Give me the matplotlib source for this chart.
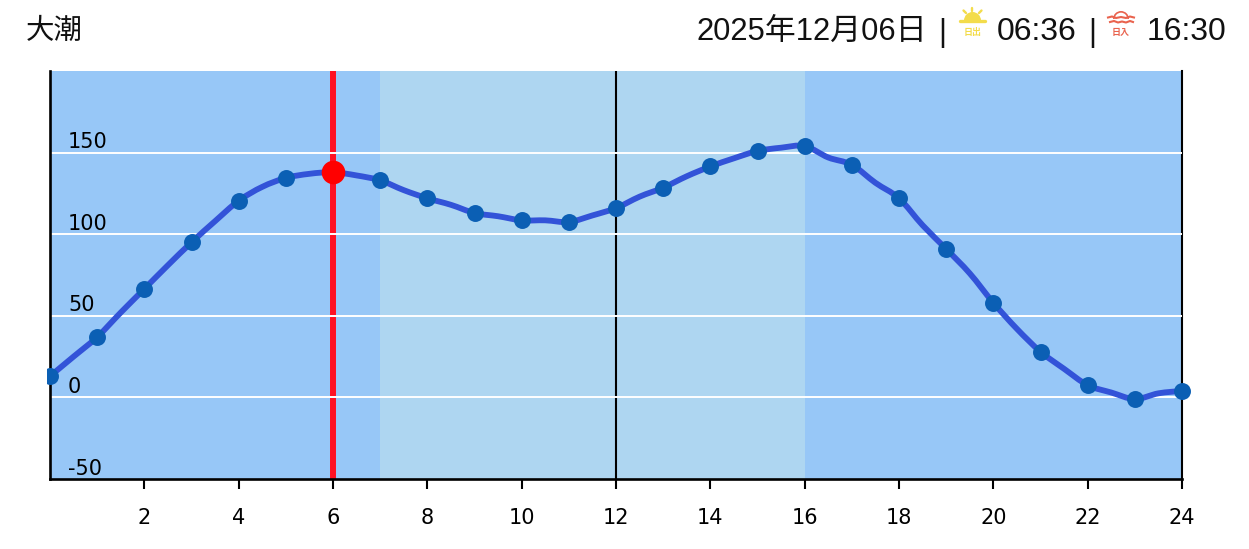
import matplotlib
matplotlib.use("Agg")
import matplotlib.pyplot as plt
from matplotlib.patches import Rectangle, Wedge, PathPatch
from matplotlib.path import Path

# marees : valeurs, toutes les demi-heures
hours = [0, 0.5, 1, 1.5, 2, 2.5, 3, 3.5, 4, 4.5, 5, 5.5, 6, 6.5, 7, 7.5, 8, 8.5,
         9, 9.5, 10, 10.5, 11, 11.5, 12, 12.5, 13, 13.5, 14, 14.5, 15, 15.5, 16,
         16.5, 17, 17.5, 18, 18.5, 19, 19.5, 20, 20.5, 21, 21.5, 22, 22.5, 23, 23.5, 24]
tide = [13, 25, 37, 52, 66.5, 81, 95, 108, 120.5, 129, 134.5, 137, 138, 136, 133, 127,
        122, 118, 113, 111, 108.5, 108.5, 107.5, 111.5, 116, 123, 128.5, 135.5, 141.5, 146.5,
        151, 153, 154, 147, 142.5, 131.5, 122, 105.5, 91, 76, 58, 42, 28, 17.5, 7.5, 3,
        -1, 2.5, 4]
marker_hours = list(range(25))
marker_tide = tide[::2]

now_hour = 6
now_tide = 138
day_start = 7
day_end = 16
y_ticks = [-50, 0, 50, 100, 150]
x_ticks = list(range(2, 25, 2))

title = "大潮"
date_text = "2025年12月06日"
sunrise = "06:36"
sunset = "16:30"

W, H = 1249, 549
BG = "#97c7f7"
BG_DAY = "#aed6f1"
JP = ["Liberation Sans", "Noto Sans CJK JP"]
CJK = ["Noto Sans CJK JP"]
INK = "#111111"


def smooth_path(xs, ys):
    # courbe de Bezier qui passe par chaque valeur
    verts = [(xs[0], ys[0])]
    codes = [Path.MOVETO]
    n = len(xs)
    for i in range(n - 1):
        a = max(i - 1, 0)
        b = min(i + 2, n - 1)
        verts.append((xs[i] + (xs[i + 1] - xs[a]) / 6, ys[i] + (ys[i + 1] - ys[a]) / 6))
        verts.append((xs[i + 1] - (xs[b] - xs[i]) / 6, ys[i + 1] - (ys[b] - ys[i]) / 6))
        verts.append((xs[i + 1], ys[i + 1]))
        codes += [Path.CURVE4, Path.CURVE4, Path.CURVE4]
    return Path(verts, codes)


fig = plt.figure(figsize=(W / 100, H / 100), dpi=100)
ax = fig.add_axes([50 / W, (H - 479) / H, 1132 / W, 408 / H])
ax.set_xlim(0, 24)
ax.set_ylim(-50, 200)
ax.set_facecolor(BG)
ax.axvspan(day_start, day_end, color=BG_DAY, lw=0, zorder=1)

ax.axvline(now_hour, color="#ff1122", lw=4.3, zorder=2)
ax.axvline(12, color="black", lw=1.5, zorder=2)
for v in y_ticks[1:]:
    ax.axhline(v, color="white", lw=1.4, zorder=3)

ax.add_patch(PathPatch(smooth_path(hours, tide), fill=False, edgecolor="#3353d8",
                       lw=4.2, joinstyle="round", zorder=4))

# calque en pixels pour l'en-tete et les icones
top = fig.add_axes([0, 0, 1, 1], facecolor="none")
top.set_xlim(0, W)
top.set_ylim(H, 0)
top.axis("off")

pts, = ax.plot(marker_hours, marker_tide, "o", color="#0b5fb4", ms=12.2, mew=0, zorder=6)
pts.set_clip_path(Rectangle((47.5, 60), 1160, 440, transform=top.transData))
ax.plot([now_hour], [now_tide], "o", color="#ff0000", ms=17, mew=0, zorder=7)

ax.spines["top"].set_visible(False)
ax.spines["left"].set_linewidth(1.9)
ax.spines["bottom"].set_linewidth(1.9)
ax.spines["right"].set_linewidth(1.5)
ax.spines["left"].set_zorder(5)

ax.set_yticks([])
ax.set_xticks(x_ticks)
ax.tick_params(axis="x", length=7.2, width=1.5, pad=14, labelsize=15)

for v in y_ticks:
    ax.annotate(str(v), (0, v), xytext=(13, 3.2), textcoords="offset points",
                fontsize=15, va="baseline", ha="left", zorder=8)

# en-tete
top.text(26, 38.5, title, fontsize=20.5, family=CJK, va="baseline", color=INK)
top.text(697, 40, date_text, fontsize=22.3, family=JP, va="baseline", color=INK)
top.text(942, 41, "|", fontsize=22, family=JP, va="baseline", ha="center", color=INK)
top.text(997, 40, sunrise, fontsize=23, family=JP, va="baseline", color=INK)
top.text(1092, 41, "|", fontsize=22, family=JP, va="baseline", ha="center", color=INK)
top.text(1147, 40, sunset, fontsize=23, family=JP, va="baseline", color=INK)

# icone lever du soleil
SUN = "#f3dc4b"
top.add_patch(Wedge((972.5, 20.5), 8.5, 180, 360, color=SUN, lw=0))
top.plot([960, 985], [21, 21], color=SUN, lw=2.4, solid_capstyle="round")
for x0, y0, x1, y1 in [(972.5, 8, 972.5, 10.5), (963.5, 10.5, 966, 13), (981.5, 10.5, 979, 13)]:
    top.plot([x0, x1], [y0, y1], color=SUN, lw=1.7, solid_capstyle="round")
top.text(972.5, 33, "日出", fontsize=6.5, family=CJK, fontweight="bold", color=SUN,
         ha="center", va="center")

# icone coucher du soleil
SET = "#e9634e"
top.add_patch(Wedge((1121, 19), 8, 180, 360, width=1.7, color=SET, lw=0))
top.plot([1108, 1112, 1116, 1121, 1126, 1130, 1134], [17.5, 16.5, 18, 17, 18, 16.5, 17.5], color=SET, lw=1.5)
top.plot([1110, 1114, 1118, 1122, 1126, 1130, 1133], [22, 21, 22.5, 21.5, 22.5, 21, 22], color=SET, lw=1.5)
top.text(1121, 33, "日入", fontsize=6.5, family=CJK, fontweight="bold", color=SET,
         ha="center", va="center")

plt.savefig("out.png", dpi=100)
